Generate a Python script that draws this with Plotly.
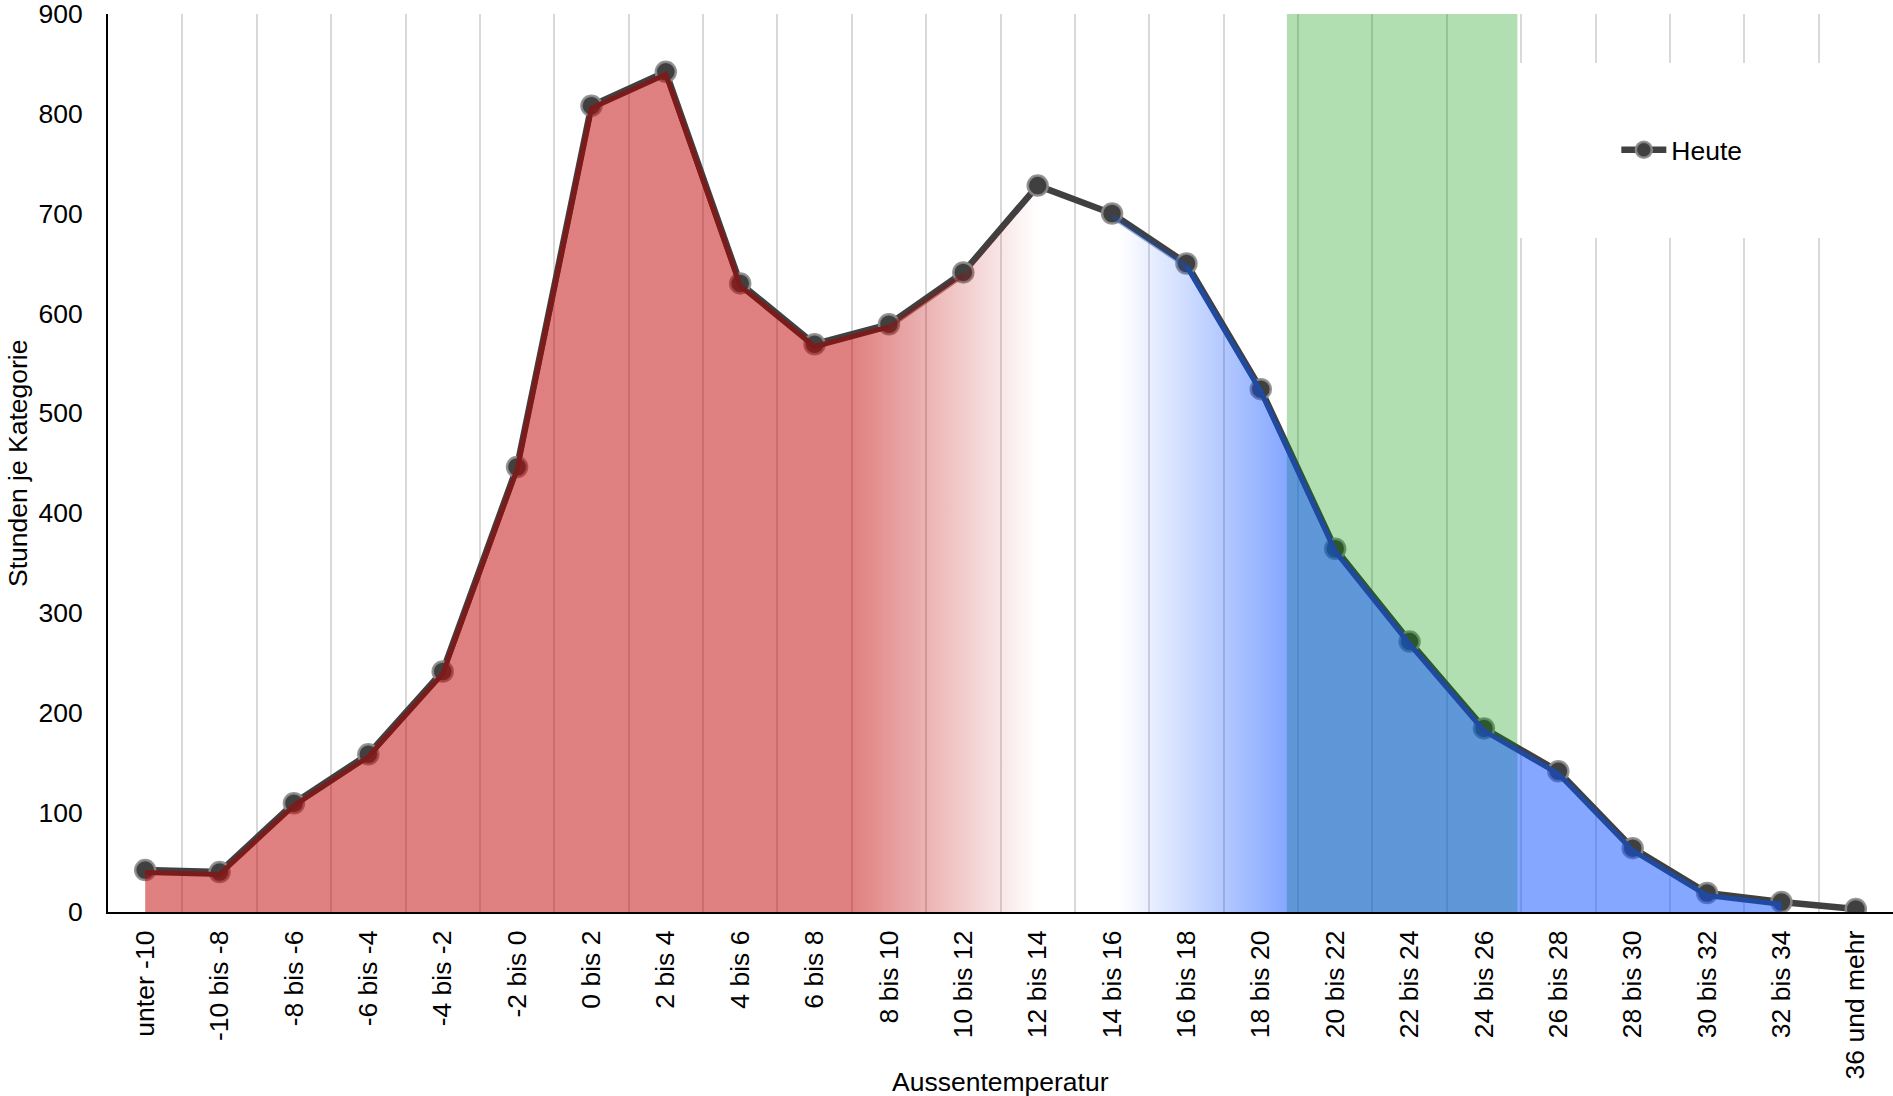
import plotly.graph_objects as go

# ---------------- data ----------------
CATEGORIES = [
    "unter -10", "-10 bis -8", "-8 bis -6", "-6 bis -4", "-4 bis -2", "-2 bis 0",
    "0 bis 2", "2 bis 4", "4 bis 6", "6 bis 8", "8 bis 10", "10 bis 12",
    "12 bis 14", "14 bis 16", "16 bis 18", "18 bis 20", "20 bis 22", "22 bis 24",
    "24 bis 26", "26 bis 28", "28 bis 30", "30 bis 32", "32 bis 34", "36 und mehr",
]
HOURS = [42, 40, 109, 158, 241, 446, 808, 842, 630, 569, 589, 641,
         728, 700, 650, 524, 364, 271, 184, 141, 64, 19, 10, 3]
SERIES_NAME = "Heute"
Y_TICKS = [0, 100, 200, 300, 400, 500, 600, 700, 800, 900]
Y_MAX = 900
X_TITLE = "Aussentemperatur"
Y_TITLE = "Stunden je Kategorie"

# comfort zone (green band), in category positions
COMFORT_ZONE = [15.35, 18.45]
# last category covered by the coloured area
AREA_LAST = 22
# gradient stops, in category positions
RED_SOLID_END = 9.5
RED_FADE_END = 12.0
BLUE_FADE_START = 13.1
BLUE_SOLID_START = 15.35
# coloured edge ranges (category indices)
RED_EDGE_END = 10
BLUE_EDGE_START = 14

# ---------------- styles ----------------
FONT = "Liberation Sans, Arial, Helvetica, sans-serif"
FS = 26.5
RED = "rgba(192,0,0,0.5)"
RED_T = "rgba(192,0,0,0)"
BLUE = "rgba(11,79,255,0.5)"
BLUE_T = "rgba(11,79,255,0)"
RED_EDGE = "#7a1c1c"
RED_EDGE_FADE = "rgba(122,28,28,0.5)"
BLUE_EDGE = "#1f4aa0"
BLUE_EDGE_FADE = "rgba(31,74,160,0.45)"
GREEN = "rgba(0,150,0,0.3)"
LINE_GRAY = "#404040"

X = list(range(len(CATEGORIES)))

fig = go.Figure()

# main grey line with markers
fig.add_trace(go.Scatter(
    x=X, y=HOURS, name=SERIES_NAME, mode="lines+markers",
    line=dict(color=LINE_GRAY, width=6.5),
    marker=dict(size=20, color=LINE_GRAY, line=dict(color="rgba(140,140,140,0.9)", width=2.5)),
))

# comfort band
fig.add_trace(go.Scatter(
    x=COMFORT_ZONE, y=[Y_MAX, Y_MAX], mode="none", fill="tozeroy",
    fillcolor=GREEN, showlegend=False, hoverinfo="skip",
))

# gradient area
ax = X[:AREA_LAST + 1]
ay = HOURS[:AREA_LAST + 1]
span = ax[-1] - ax[0]
def pos(v):
    return (v - ax[0]) / span

colorscale = [
    [0.0, RED],
    [pos(RED_SOLID_END), RED],
    [pos(RED_FADE_END), RED_T],
    [pos(BLUE_FADE_START), BLUE_T],
    [pos(BLUE_SOLID_START), BLUE],
    [1.0, BLUE],
]
fig.add_trace(go.Scatter(
    x=ax, y=ay, mode="none", fill="tozeroy",
    fillgradient=dict(type="horizontal", colorscale=colorscale, start=ax[0], stop=ax[-1]),
    yaxis="y2", showlegend=False, hoverinfo="skip",
))

# coloured edges of the area
edge_style = dict(mode="lines", yaxis="y2", showlegend=False, hoverinfo="skip")
EW = 5
fig.add_trace(go.Scatter(x=X[RED_EDGE_END:RED_EDGE_END + 2], y=HOURS[RED_EDGE_END:RED_EDGE_END + 2],
                         line=dict(color=RED_EDGE_FADE, width=EW), **edge_style))
fig.add_trace(go.Scatter(x=X[:RED_EDGE_END + 1], y=HOURS[:RED_EDGE_END + 1],
                         line=dict(color=RED_EDGE, width=EW), **edge_style))
fig.add_trace(go.Scatter(x=X[BLUE_EDGE_START - 1:BLUE_EDGE_START + 1], y=HOURS[BLUE_EDGE_START - 1:BLUE_EDGE_START + 1],
                         line=dict(color=BLUE_EDGE_FADE, width=EW), **edge_style))
fig.add_trace(go.Scatter(x=X[BLUE_EDGE_START:AREA_LAST + 1], y=HOURS[BLUE_EDGE_START:AREA_LAST + 1],
                         line=dict(color=BLUE_EDGE, width=EW), **edge_style))

fig.update_layout(
    width=1893, height=1096,
    margin=dict(l=108, r=0, t=14, b=184),
    paper_bgcolor="white", plot_bgcolor="white",
    font=dict(family=FONT, size=FS, color="black"),
    xaxis=dict(
        range=[-0.5, len(CATEGORIES) - 0.5],
        tickmode="array", tickvals=X, ticktext=CATEGORIES, tickangle=-90,
        showgrid=False, zeroline=False, showline=True, linecolor="black", linewidth=2,
        ticks="", ticklabelstandoff=6, tickfont=dict(size=FS, color="black"),
        minor=dict(tickmode="array", tickvals=[i + 0.5 for i in X[:-1]],
                   showgrid=True, gridcolor="#d9d9d9", gridwidth=2, ticks=""),
        automargin=False, fixedrange=True,
    ),
    yaxis=dict(
        range=[0, Y_MAX], tickmode="array", tickvals=Y_TICKS,
        showgrid=False, zeroline=False, showline=True, linecolor="black", linewidth=2,
        ticks="", ticklabelstandoff=18, ticklabeloverflow="allow",
        tickfont=dict(size=FS, color="black"),
        automargin=False, fixedrange=True,
    ),
    yaxis2=dict(overlaying="y", range=[2.5, Y_MAX + 2.5], visible=False, fixedrange=True),
    legend=dict(x=0.845, y=0.8486, xanchor="left", yanchor="middle", itemwidth=45,
                bgcolor="rgba(0,0,0,0)", font=dict(size=FS, color="black")),
    shapes=[dict(type="rect", xref="paper", yref="paper", x0=0.7905, x1=0.97, y0=0.7506, y1=0.9454,
                 fillcolor="white", line=dict(width=0), layer="above")],
    annotations=[
        dict(text=X_TITLE, xref="paper", yref="paper", x=0.5, y=-0.1893,
             xanchor="center", yanchor="middle", showarrow=False, font=dict(size=FS)),
        dict(text=Y_TITLE, xref="paper", yref="paper", x=-0.0504, y=0.5, textangle=-90,
             xanchor="center", yanchor="middle", showarrow=False, font=dict(size=FS)),
    ],
)

fig.write_html(
    "out.html",
    config={"displayModeBar": False},
    post_script="document.body.style.margin='0';document.body.style.overflow='hidden';",
)
